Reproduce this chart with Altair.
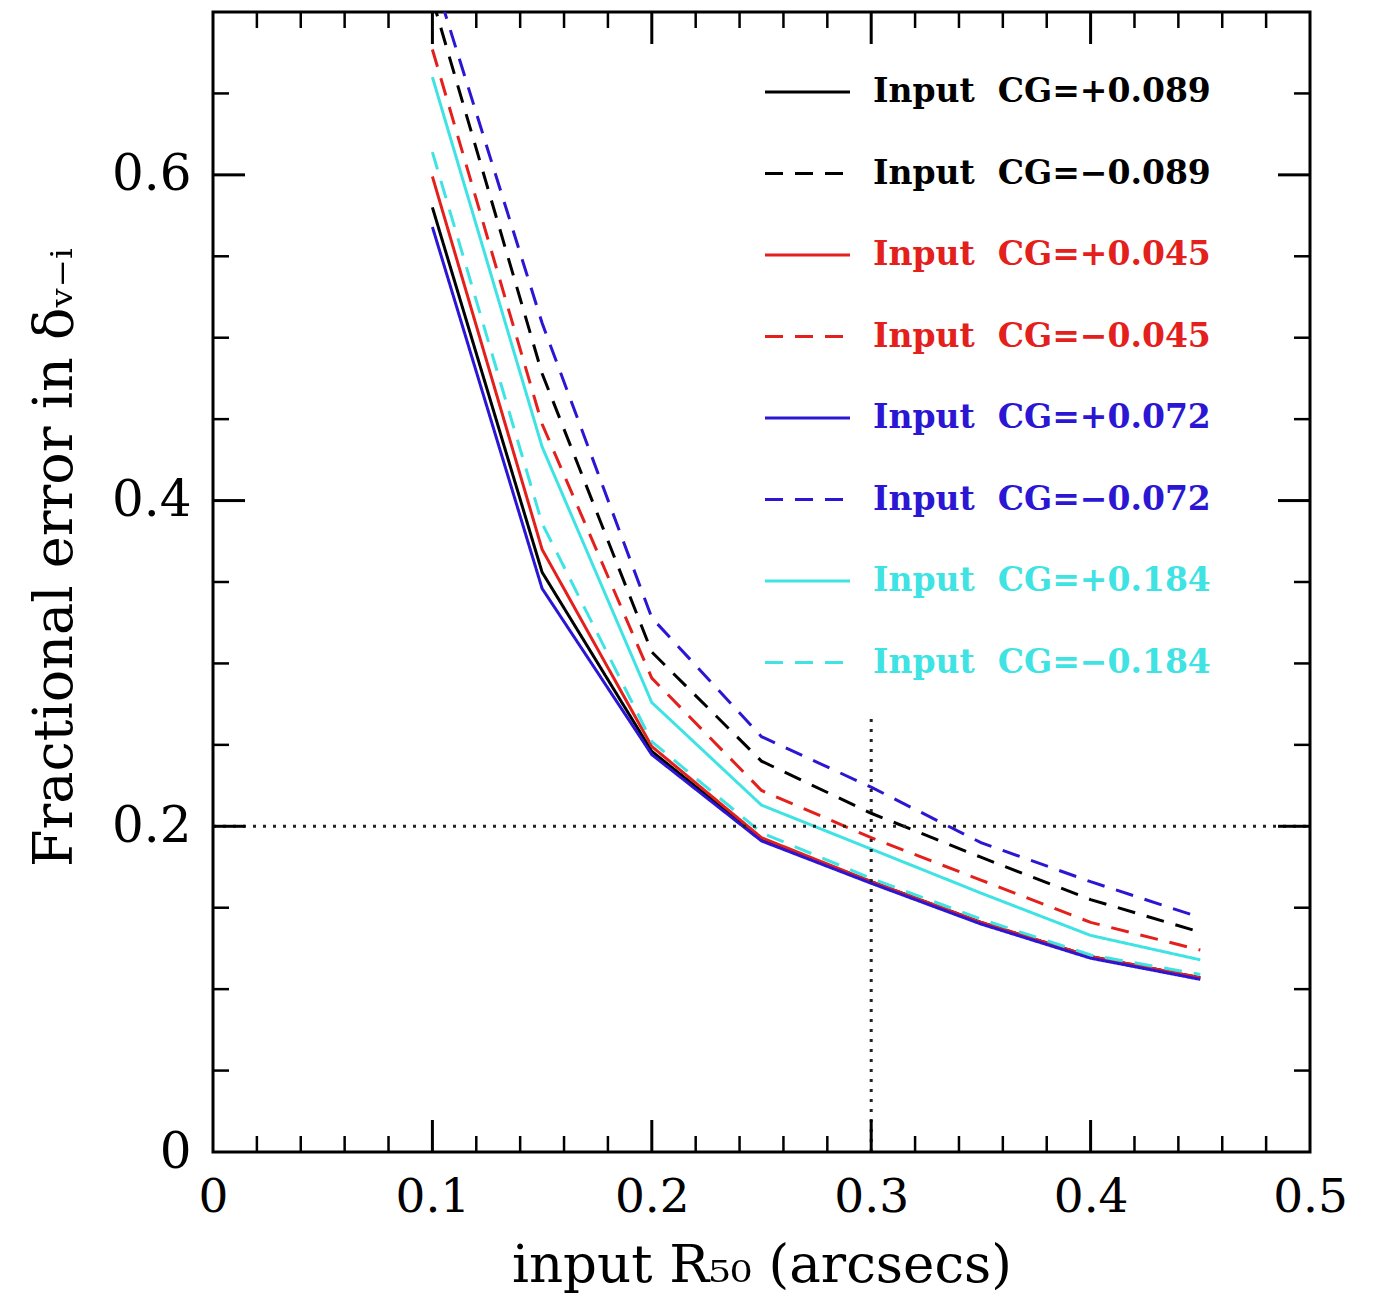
import altair as alt
import pandas as pd

# ---------------- data ----------------
r50 = [0.10, 0.15, 0.20, 0.25, 0.30, 0.35, 0.40, 0.45]

labels = [
    "Input\u00a0\u00a0CG=+0.089",
    "Input\u00a0\u00a0CG=\u22120.089",
    "Input\u00a0\u00a0CG=+0.045",
    "Input\u00a0\u00a0CG=\u22120.045",
    "Input\u00a0\u00a0CG=+0.072",
    "Input\u00a0\u00a0CG=\u22120.072",
    "Input\u00a0\u00a0CG=+0.184",
    "Input\u00a0\u00a0CG=\u22120.184",
]

black_pos = [0.580, 0.356, 0.246, 0.192, 0.166, 0.141, 0.120, 0.107]
black_neg = [0.708, 0.478, 0.307, 0.240, 0.208, 0.181, 0.155, 0.135]
red_pos   = [0.599, 0.370, 0.249, 0.193, 0.166, 0.141, 0.120, 0.107]
red_neg   = [0.677, 0.447, 0.291, 0.222, 0.193, 0.167, 0.141, 0.124]
blue_pos  = [0.568, 0.346, 0.244, 0.191, 0.165, 0.140, 0.119, 0.106]
blue_neg  = [0.724, 0.509, 0.328, 0.255, 0.224, 0.190, 0.166, 0.144]
cyan_pos  = [0.660, 0.433, 0.276, 0.213, 0.186, 0.159, 0.133, 0.118]
cyan_neg  = [0.614, 0.386, 0.252, 0.196, 0.168, 0.143, 0.121, 0.109]

series_values = [black_pos, black_neg, red_pos, red_neg,
                 blue_pos, blue_neg, cyan_pos, cyan_neg]

colors = ["#000000", "#000000", "#e3201b", "#e3201b",
          "#2b16d4", "#2b16d4", "#3fe3e3", "#3fe3e3"]
dashed = [False, True, False, True, False, True, False, True]

x_major = [0.1, 0.2, 0.3, 0.4]
x_minor = [0.02, 0.04, 0.06, 0.08, 0.12, 0.14, 0.16, 0.18,
           0.22, 0.24, 0.26, 0.28, 0.32, 0.34, 0.36, 0.38,
           0.42, 0.44, 0.46, 0.48]
y_major = [0.2, 0.4, 0.6]
y_minor = [0.05, 0.1, 0.15, 0.25, 0.3, 0.35, 0.45, 0.5, 0.55, 0.65]

x_label_values = [0, 0.1, 0.2, 0.3, 0.4, 0.5]
y_label_values = [0, 0.2, 0.4, 0.6]

REF_Y = 0.2
REF_X = 0.3
REF_X_TOP = 0.267

# ---------------- layout constants ----------------
W, H = 1097, 1140
XDOM = [0, 0.5]
YDOM = [0, 0.7]
SERIF = "DejaVu Serif"
DASH = [18, 12]

xs = alt.Scale(domain=XDOM, nice=False, zero=False)
ys = alt.Scale(domain=YDOM, nice=False, zero=False)

x_axis = alt.Axis(values=x_label_values, ticks=False, tickSize=0, domain=False, grid=False,
                  labelExpr="datum.value == 0 ? '0' : format(datum.value, '.1f')",
                  labelFont=SERIF, labelFontSize=47, labelColor="black",
                  labelPadding=22, labelFlush=False, labelOverlap=False,
                  title="input R\u2085\u2080 (arcsecs)", titleFont=SERIF, titleFontSize=53,
                  titleFontWeight="normal", titleColor="black",
                  titleY=113, titleBaseline="middle")
y_axis = alt.Axis(values=y_label_values, ticks=False, tickSize=0, domain=False, grid=False,
                  labelExpr="datum.value == 0 ? '0' : format(datum.value, '.1f')",
                  labelFont=SERIF, labelFontSize=50, labelColor="black",
                  labelPadding=22, labelFlush=False, labelOverlap=False,
                  title="Fractional error in \u03b4\u1d65\u208b\u1d62", titleFont=SERIF,
                  titleFontSize=54, titleFontWeight="normal", titleColor="black",
                  titleX=-158, titleY=545, titleBaseline="middle", titleAngle=-90)

def X(field):
    return alt.X(field, scale=xs, axis=x_axis)

def Y(field):
    return alt.Y(field, scale=ys, axis=y_axis)

# ---------------- curves ----------------
layers = []
for i, vals in enumerate(series_values):
    df = pd.DataFrame({"r50": r50, "err": vals})
    layers.append(
        alt.Chart(df).mark_line(
            strokeWidth=3, clip=True, color=colors[i],
            strokeDash=DASH if dashed[i] else [1, 0]
        ).encode(x=X("r50:Q"), y=Y("err:Q"))
    )

# ---------------- reference dotted lines ----------------
ref_h = alt.Chart(pd.DataFrame({"x0": [XDOM[0]], "x1": [XDOM[1]], "y": [REF_Y]})).mark_rule(
    color="#222222", strokeWidth=3, strokeDash=[3, 7]
).encode(y=Y("y:Q"), x=X("x0:Q"), x2="x1:Q")

ref_v = alt.Chart(pd.DataFrame({"x": [REF_X], "y0": [0.0], "y1": [REF_X_TOP]})).mark_rule(
    color="#222222", strokeWidth=3, strokeDash=[3, 7]
).encode(x=X("x:Q"), y=Y("y0:Q"), y2="y1:Q")

# ---------------- frame ticks ----------------
def xticks(vals, length, width):
    d = pd.DataFrame({"v": vals})
    base = alt.Chart(d).mark_rule(color="black", strokeWidth=width)
    bot = base.encode(x=X("v:Q"), y=alt.value(H), y2=alt.value(H - length))
    top = base.encode(x=X("v:Q"), y=alt.value(0), y2=alt.value(length))
    return [bot, top]

def yticks(vals, length, width):
    d = pd.DataFrame({"v": vals})
    base = alt.Chart(d).mark_rule(color="black", strokeWidth=width)
    left = base.encode(y=Y("v:Q"), x=alt.value(0), x2=alt.value(length))
    right = base.encode(y=Y("v:Q"), x=alt.value(W), x2=alt.value(W - length))
    return [left, right]

tick_layers = (xticks(x_major, 32, 3) + xticks(x_minor, 16, 2.5)
               + yticks(y_major, 32, 3) + yticks(y_minor, 16, 2.5))

main = alt.layer(*layers, ref_h, ref_v, *tick_layers)

# ---------------- legend (drawn inside the plot) ----------------
leg_df = pd.DataFrame({"label": labels, "rank": list(range(len(labels))),
                       "color": colors,
                       "dash": ["dashed" if d else "solid" for d in dashed]})
leg_y = alt.Y("rank:Q", scale=alt.Scale(domain=[0, 7], range=[80, 650.5]), axis=None)

leg_lines = alt.Chart(leg_df).mark_rule(strokeWidth=3).encode(
    y=leg_y, x=alt.value(552), x2=alt.value(637),
    color=alt.Color("color:N", scale=None),
    strokeDash=alt.StrokeDash("dash:N", scale=alt.Scale(domain=["solid", "dashed"],
                                                         range=[[1, 0], DASH]), legend=None),
)
leg_text = alt.Chart(leg_df).mark_text(
    align="left", baseline="middle", font=SERIF, fontSize=33, fontWeight="bold"
).encode(
    y=leg_y, x=alt.value(660), text="label:N",
    color=alt.Color("color:N", scale=None),
)
legend = alt.layer(leg_lines, leg_text)

chart = alt.layer(main, legend).resolve_scale(y="independent").properties(
    width=W, height=H,
    padding={"left": 213, "top": 12, "right": 68, "bottom": 141},
    autosize=alt.AutoSizeParams(type="none"),
    background="white",
).configure_view(stroke="black", strokeWidth=3)

chart.save("out.html", embed_options={"renderer": "svg", "actions": False})
